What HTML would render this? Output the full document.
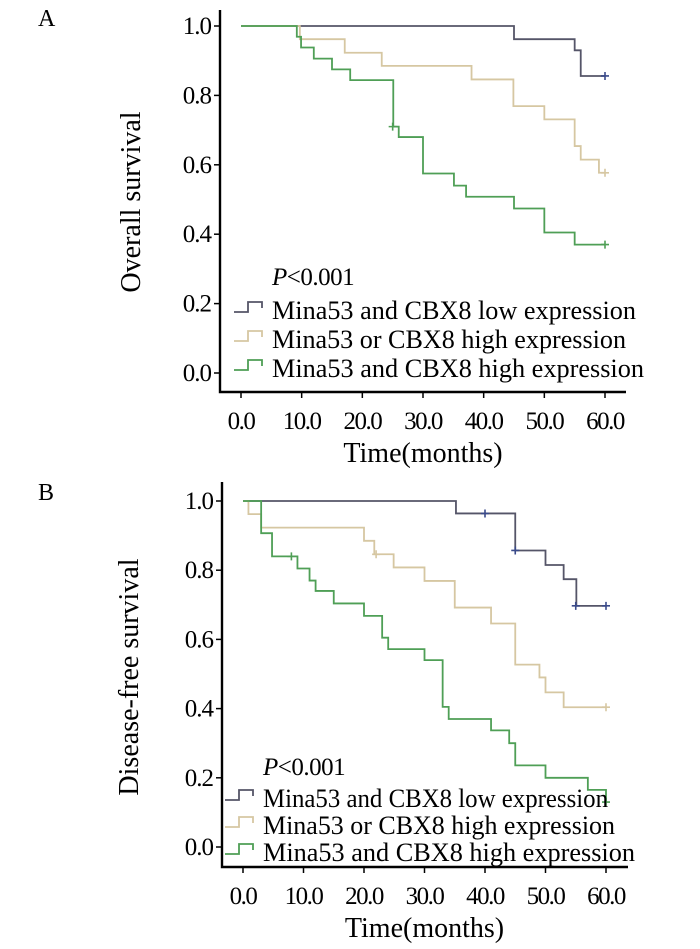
<!DOCTYPE html>
<html><head><meta charset="utf-8"><style>
body{margin:0;background:#fff}
svg{display:block;font-family:"Liberation Serif",serif}
text{font-family:"Liberation Serif",serif}
</style></head><body>
<svg id="c" width="700" height="949" viewBox="0 0 700 949">
</svg>
<script>
const seriesNames=["Mina53 and CBX8 low expression","Mina53 or CBX8 high expression","Mina53 and CBX8 high expression"];
const colors=["#555568","#d6c7a2","#4f9f56"];
const xTicks=[0,10,20,30,40,50,60];
const xTickLabels=["0.0","10.0","20.0","30.0","40.0","50.0","60.0"];
const yTicks=[0,0.2,0.4,0.6,0.8,1.0];
const yTickLabels=["0.0","0.2","0.4","0.6","0.8","1.0"];
// Panel A (overall survival): event times and survival values
const aLowT=[0,45,55,56,60];const aLowS=[1,0.962,0.93,0.856,0.856];
const aMidT=[0,9.7,17.1,23.2,38,44.9,50,55,56,59,60];const aMidS=[1,0.962,0.923,0.885,0.846,0.769,0.731,0.654,0.615,0.577,0.577];
const aHighT=[0,9.2,9.9,12,15,18,25.1,26,30,35.1,37.1,45,50,55,60];const aHighS=[1,0.969,0.938,0.906,0.875,0.844,0.71,0.68,0.575,0.54,0.508,0.474,0.405,0.37,0.37];
const aCensorT=[[60],[60],[25,60]];const aCensorS=[[0.856],[0.577],[0.71,0.37]];
// Panel B (disease-free survival)
const bLowT=[0,35.2,45,50,53,55.1,60];const bLowS=[1,0.964,0.857,0.815,0.774,0.697,0.697];
const bMidT=[0,0.9,3,20,21.7,24.9,30,35,41,45,49,50,53,60];const bMidS=[1,0.962,0.923,0.885,0.846,0.808,0.769,0.692,0.646,0.527,0.49,0.447,0.404,0.404];
const bHighT=[0,3,4.8,9,11,12,15,20,23,24,30,33,34,41,44,45,50,57,60];const bHighS=[1,0.907,0.84,0.805,0.77,0.74,0.704,0.668,0.605,0.572,0.54,0.405,0.37,0.337,0.3,0.236,0.2,0.165,0.13];
const bCensorT=[[40,45,55,60],[22,60],[8,60]];const bCensorS=[[0.964,0.857,0.697,0.697],[0.846,0.404],[0.84,0.13]];

const svg=document.getElementById('c');const NS="http://www.w3.org/2000/svg";
function mk(tag,attrs,parent,text){const e=document.createElementNS(NS,tag);for(const k in attrs)e.setAttribute(k,attrs[k]);if(text!==undefined)e.textContent=text;(parent||svg).appendChild(e);return e;}

function panel(cfg){
  const g=mk('g',{});
  
  
  const X=t=>cfg.x0+(cfg.x60-cfg.x0)*t/60, Y=s=>cfg.y0+(cfg.y1-cfg.y0)*s;
  const lbl=mk('text',{x:38,y:cfg.labelY,'font-size':24},g,cfg.id);
  
  const ax=mk('path',{d:`M${cfg.ax} ${cfg.top} V${cfg.bottom} H${cfg.right}`,fill:'none',stroke:'#000','stroke-width':2.4},g);
  
  yTicks.forEach((v,i)=>{
    mk('line',{x1:cfg.ax-6,x2:cfg.ax,y1:Y(v),y2:Y(v),stroke:'#000','stroke-width':1.5},g);
    const t=mk('text',{x:cfg.ax-9,y:Y(v)+8,'font-size':25,'text-anchor':'end','letter-spacing':-1},g,yTickLabels[i]);
    
  });
  xTicks.forEach((v,i)=>{
    mk('line',{x1:X(v),x2:X(v),y1:cfg.bottom,y2:cfg.bottom+6,stroke:'#000','stroke-width':1.5},g);
    const t=mk('text',{x:X(v),y:cfg.bottom+37,'font-size':25,'text-anchor':'middle','letter-spacing':-1.5},g,xTickLabels[i]);
    
  });
  const xt=mk('text',{x:(cfg.x0+cfg.x60)/2,y:cfg.bottom+70,'font-size':28,'text-anchor':'middle'},g,'Time(months)');
  
  const yt=mk('text',{x:0,y:0,'font-size':28,'text-anchor':'middle',transform:`translate(${cfg.ytx},${cfg.yty}) rotate(-90)`},g,cfg.ytitle);
  
  cfg.series.forEach((s,k)=>{
    let d=`M${X(s.T[0])} ${Y(s.S[0])}`;
    for(let i=1;i<s.T.length;i++){d+=` H${X(s.T[i])} V${Y(s.S[i])}`;}
    const p=mk('path',{d:d,fill:'none',stroke:colors[k],'stroke-width':1.8},g);
    
    s.CT.forEach((t,j)=>{
      const c=mk('path',{d:`M${X(t)-4} ${Y(s.CS[j])}h8M${X(t)} ${Y(s.CS[j])-4}v8`,stroke:k==0?'#3a4a8a':colors[k],'stroke-width':1.6},g);
      
    });
  });
  const pv=mk('text',{x:cfg.legX,y:cfg.pY,'font-size':25,'letter-spacing':-0.5},g);
  
  mk('tspan',{'font-style':'italic'},pv,'P');mk('tspan',{},pv,'<0.001');
  seriesNames.forEach((n,k)=>{
    const by=cfg.legY[k];const ix=cfg.legX-38;
    const ic=mk('path',{d:`M${ix} ${by-3}h14v-10h14v6`,fill:'none',stroke:colors[k],'stroke-width':1.8},g);
    
    const t=mk('text',{x:cfg.legX,y:by+4,'font-size':26,textLength:cfg.legW[k],lengthAdjust:'spacingAndGlyphs'},g,n);
    
  });
}
panel({id:'A',labelY:26,x0:241,x60:605,y0:373,y1:26,ax:220,top:10,bottom:392,right:626,ytx:140,yty:202,ytitle:'Overall survival',
  legX:272,pY:285,legY:[315,344,373],legW:[364,354,372],
  series:[{T:aLowT,S:aLowS,CT:aCensorT[0],CS:aCensorS[0]},{T:aMidT,S:aMidS,CT:aCensorT[1],CS:aCensorS[1]},{T:aHighT,S:aHighS,CT:aCensorT[2],CS:aCensorS[2]}]});
panel({id:'B',labelY:500,x0:243,x60:606,y0:847,y1:501,ax:222,top:482,bottom:867,right:628,ytx:138,yty:677,ytitle:'Disease-free survival',
  legX:263,pY:775,legY:[803,830,857],legW:[345,352,372],
  series:[{T:bLowT,S:bLowS,CT:bCensorT[0],CS:bCensorS[0]},{T:bMidT,S:bMidS,CT:bCensorT[1],CS:bCensorS[1]},{T:bHighT,S:bHighS,CT:bCensorT[2],CS:bCensorS[2]}]});
</script>
</body></html>
